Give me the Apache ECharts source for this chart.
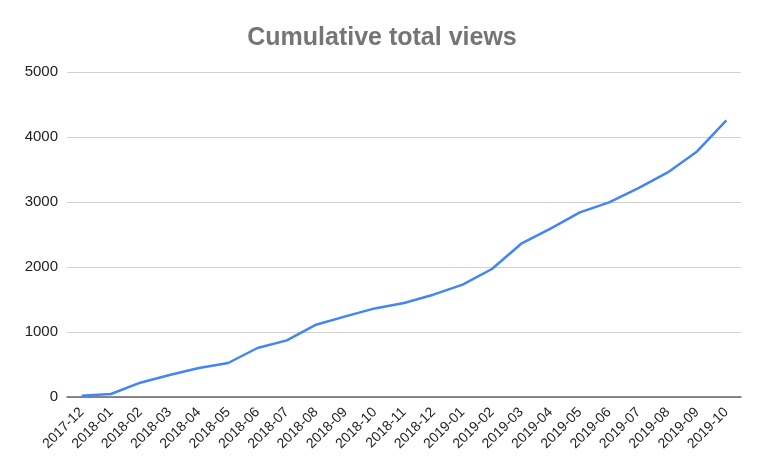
<!DOCTYPE html>
<html>
<head>
<meta charset="utf-8">
<script src="https://cdn.jsdelivr.net/npm/echarts@6/dist/echarts.min.js"></script>
<style>html,body{margin:0;padding:0;background:#fff}#c{width:764px;height:472px}</style>
</head>
<body>
<div id="c"></div>
<script>
const categories = ["2017-12","2018-01","2018-02","2018-03","2018-04","2018-05","2018-06","2018-07","2018-08","2018-09","2018-10","2018-11","2018-12","2019-01","2019-02","2019-03","2019-04","2019-05","2019-06","2019-07","2019-08","2019-09","2019-10"];
const views = [20,46,220,338,446,523,754,871,1112,1240,1363,1446,1574,1728,1969,2358,2590,2840,2995,3215,3455,3778,4255];
const yTicks = {min:0,max:5000,interval:1000};
const titleText = "Cumulative total views";

const chart = echarts.init(document.getElementById('c'), null, {renderer:'canvas'});
chart.setOption({
  animation:false,
  title:{text:titleText,left:'center',top:21,textStyle:{fontFamily:'Liberation Sans, Arial, sans-serif',fontSize:25,fontWeight:'bold',color:'#757575'}},
  grid:{left:67,right:23,top:72,bottom:75,containLabel:false},
  xAxis:{type:'category',data:categories,boundaryGap:true,
    axisLine:{lineStyle:{color:'#666',width:1.5}},axisTick:{show:false},
    axisLabel:{rotate:45,interval:0,fontFamily:'Liberation Sans, Arial, sans-serif',fontSize:14,color:'#222',margin:13}},
  yAxis:{type:'value',min:yTicks.min,max:yTicks.max,interval:yTicks.interval,
    axisLine:{show:false},axisTick:{show:false},
    splitLine:{lineStyle:{color:'#d0d0d0',width:1}},
    axisLabel:{fontFamily:'Liberation Sans, Arial, sans-serif',fontSize:15,color:'#222',margin:9,formatter:function(v){return String(v);}}},
  series:[{type:'line',data:views,symbol:'none',lineStyle:{color:'#4285F4',width:2.5},itemStyle:{color:'#4285F4'}}]
});
</script>
</body>
</html>
